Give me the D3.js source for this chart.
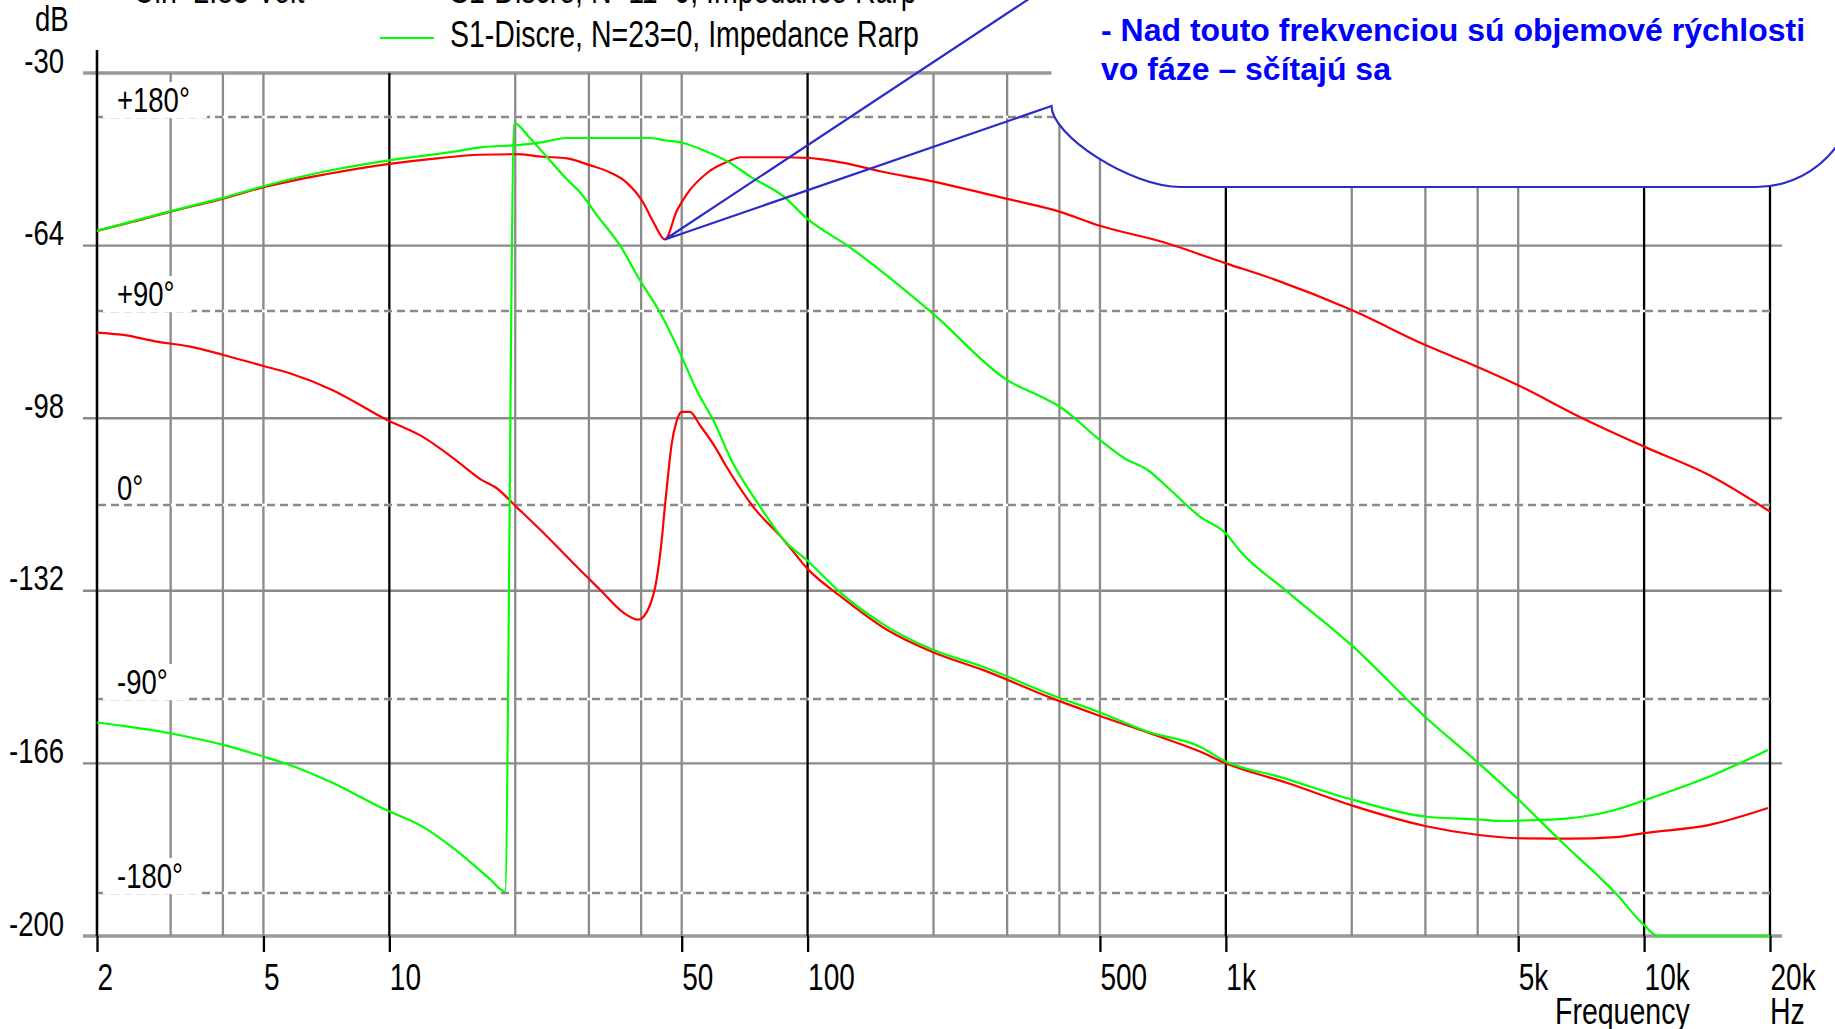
<!DOCTYPE html>
<html>
<head>
<meta charset="utf-8">
<script src="https://cdn.jsdelivr.net/npm/d3@7"></script>
<style>
  html, body { margin: 0; padding: 0; background: #fff; }
  svg { display: block; }
  text { font-family: "Liberation Sans", Arial, sans-serif; fill: #000; }
</style>
</head>
<body>
<script>
// ---- data ---------------------------------------------------------------
// frequency grid (Hz)
const gridFreqs = [2, 3, 4, 5, 10, 20, 30, 40, 50, 100, 200, 300, 400, 500,
                   1000, 2000, 3000, 4000, 5000, 10000, 20000];
const darkFreqs = [2, 10, 100, 1000, 10000, 20000];
const xTickFreqs = [2, 5, 10, 50, 100, 500, 1000, 5000, 10000, 20000];
const xTickLabels = ["2", "5", "10", "50", "100", "500", "1k", "5k", "10k", "20k"];

// level axis (dB) and phase axis (degrees)
const dbTicks = [-30, -64, -98, -132, -166, -200];
const dbLabels = ["-30", "-64", "-98", "-132", "-166", "-200"];
const phaseTicks = [180, 90, 0, -90, -180];
const phaseLabels = ["+180°", "+90°", "0°", "-90°", "-180°"];

// [frequency Hz, level dB]
const redMag = [
  [2, -61.1], [2.44, -59.3], [3, -57.3], [3.9, -55.0], [5, -52.5], [7, -50.0],
  [10, -47.9], [13, -46.8], [16.5, -46.1], [20, -46.0], [23.3, -46.5], [26.6, -46.8],
  [30, -48.1], [33.7, -49.6], [36.8, -51.5], [40.5, -55.6], [42.8, -59.4], [45.6, -62.8],
  [48.7, -57.1], [51.5, -53.8], [57.7, -49.6], [64.7, -47.4], [69.3, -46.6], [86, -46.6],
  [100, -46.7], [120, -47.6], [150, -49.4], [200, -51.4], [300, -54.8], [400, -57.3],
  [500, -60.1], [700, -63.2], [1000, -67.5], [1300, -70.6], [2000, -76.7], [3000, -83.6],
  [4000, -87.9], [5000, -91.5], [7000, -97.7], [10000, -103.6], [14300, -109.2], [20000, -116.4]
];
const greenMag = [
  [2, -61.1], [3, -57.2], [4, -54.6], [5, -52.3], [7, -49.4], [10, -47.2], [14, -45.6],
  [16.7, -44.6], [20.2, -44.2], [23.3, -43.6], [26.6, -42.8], [42, -42.8], [45.1, -43.2],
  [50.4, -43.8], [56.3, -45.2], [64.6, -47.5], [73.3, -50.5], [87.9, -54.4], [99.4, -58.6],
  [126, -64.3], [200, -77.5], [300, -90.5], [375, -94.4], [400, -95.7], [500, -102.3],
  [572, -105.9], [650, -108.2], [736, -112.1], [867, -117.4], [1000, -120.7], [1077, -124],
  [1404, -132.2], [2016, -143], [2993, -156.8], [4027, -166], [5017, -173.2], [6282, -181.1],
  [8553, -191.6], [9984, -197.8], [10800, -200], [20000, -200]
];

// [frequency Hz, phase degrees]
const redPhase = [
  [2, 80], [2.31, 78.9], [2.78, 75.8], [3.34, 73.5], [4.01, 69.6], [5, 64.5], [5.78, 61.1],
  [7.3, 53.4], [9.8, 39.8], [12, 31.7], [14.4, 20.9], [16.5, 12], [18, 8], [20.2, -1.2],
  [23.8, -14.5], [27.5, -26.9], [31.9, -39.3], [36.3, -50], [39.4, -53.2], [42, -46.4],
  [43.6, -34], [44.8, -16.2], [45.6, -0.3], [46.4, 14], [47.3, 28.1], [48.6, 38.8],
  [50, 43.2], [52.3, 43.2], [55.3, 37], [60, 27.1], [64.1, 17.5], [74.1, -0.8],
  [87.7, -16.2], [100.5, -30.1], [120.2, -42.5], [154.8, -57.9], [201.6, -68.7],
  [262.3, -76.5], [383.5, -89.6], [493, -97.4], [676.6, -106.7], [867, -114.4],
  [999, -119.8], [1404, -129], [2016, -139.6], [2993, -148.9], [4027, -153.1],
  [5017, -154.6], [6607, -154.8], [8553, -154.1], [9984, -152.2], [14334, -148.4], [19780, -140.6]
];
const greenPhase = [
  [2, -100.9], [2.31, -102.5], [2.98, -105.9], [4.01, -111.3], [5, -116.7], [5.78, -120.6],
  [7.2, -128.3], [9.8, -141.4], [12, -149.2], [14.4, -160], [17.3, -173.1], [18.9, -179.3],
  [19.9, 177.2], [21.7, 170.1], [23.3, 163.5], [26.6, 151], [28.6, 145], [31.3, 134.6],
  [35.6, 120.4], [39.7, 104.4], [44.3, 89.5], [49.5, 70.7], [54.3, 53.2], [60, 37.9],
  [65.1, 22.4], [77, -0.8], [87.7, -16.2], [100.5, -26.3], [120.2, -40.9], [154.8, -56.4],
  [199.5, -67.2], [262.3, -75], [383.5, -88.1], [493, -95.8], [648, -105.1], [867, -112.1],
  [999, -119], [1338, -126], [2016, -136.8], [2993, -144.5], [4027, -145.9], [4626, -146.6],
  [5017, -146.4], [6491, -145.5], [8553, -141.4], [9984, -137.1], [14334, -126], [19780, -113.6]
];

// callout target: the notch of the red level curve
const calloutTarget = [45.6, -62.8];
const calloutLines = ["- Nad touto frekvenciou sú objemové rýchlosti", "vo fáze – sčítajú sa"];
const legendRows = ["S1-Discre, N=11=0, Impedance Rarp", "S1-Discre, N=23=0, Impedance Rarp"];
const topNote = "Uin=2.83 Volt";

// ---- layout -------------------------------------------------------------
const W = 1835, H = 1029;
const plotL = 97, plotR = 1770, plotT = 73, plotB = 936;

const x = d3.scaleLog().domain([2, 20000]).range([plotL, plotR]);
const yDb = d3.scaleLinear().domain([-30, -200]).range([plotT, plotB]);
const yPh = d3.scaleLinear().domain([180, -180]).range([117, 893]);

const GRID = "#8a8a8a";
const SY = 1.3;          // tall, narrow screen font look
const FS = 27.5;

const svg = d3.select("body").append("svg").attr("width", W).attr("height", H);

function txt(g, tx, ty, s, opts = {}) {
  return g.append("text")
    .attr("transform", `translate(${tx},${ty}) scale(1,${opts.sy || SY})`)
    .attr("text-anchor", opts.anchor || "start")
    .style("font-size", (opts.size || FS) + "px")
    .style("font-weight", opts.weight || "normal")
    .style("fill", opts.fill || "#000")
    .text(s);
}

// ---- grid ---------------------------------------------------------------
const grid = svg.append("g");

// solid level lines
grid.selectAll("line.db").data(dbTicks).join("line")
  .attr("x1", plotL - 14).attr("x2", plotR + 12)
  .attr("y1", d => yDb(d)).attr("y2", d => yDb(d))
  .attr("stroke", d => (d === -30 || d === -200) ? "#9a9a9a" : GRID)
  .attr("stroke-width", d => (d === -30 || d === -200) ? 3.6 : 2.4);

// vertical frequency lines
grid.selectAll("line.f").data(gridFreqs).join("line")
  .attr("x1", d => x(d)).attr("x2", d => x(d))
  .attr("y1", d => d === 2 ? 50 : plotT).attr("y2", plotB)
  .attr("stroke", d => darkFreqs.includes(d) ? "#000" : GRID)
  .attr("stroke-width", 2.3);

// dashed phase lines (opaque gaps)
grid.selectAll("line.phw").data(phaseTicks).join("line")
  .attr("x1", plotL + 1).attr("x2", plotR)
  .attr("y1", d => yPh(d)).attr("y2", d => yPh(d))
  .attr("stroke", "#fff").attr("stroke-width", 2.4);
grid.selectAll("line.ph").data(phaseTicks).join("line")
  .attr("x1", plotL + 1).attr("x2", plotR)
  .attr("y1", d => yPh(d)).attr("y2", d => yPh(d))
  .attr("stroke", GRID).attr("stroke-width", 2.4)
  .attr("stroke-dasharray", "8,5");

// left axis line drawn last so it stays black
grid.append("line").attr("x1", plotL).attr("x2", plotL).attr("y1", 50).attr("y2", plotB)
  .attr("stroke", "#000").attr("stroke-width", 2.3);

// ---- phase labels with opaque boxes --------------------------------------
const phG = svg.append("g");
phaseTicks.forEach((p, i) => {
  const yb = yPh(p) - 5;
  const t = txt(phG, 117, yb, phaseLabels[i]);
  const w = t.node().getComputedTextLength();
  phG.insert("rect", "text")
    .attr("x", plotL + 6).attr("y", yb - 30)
    .attr("width", 117 - (plotL + 6) + w + 17).attr("height", p === 0 ? 33 : 36)
    .attr("fill", "#fff");
});

// ---- axes ---------------------------------------------------------------
const xAxisG = svg.append("g").attr("transform", `translate(0,${plotB})`)
  .call(d3.axisBottom(x).tickValues(xTickFreqs)
    .tickFormat((d, i) => xTickLabels[i]).tickSize(16).tickPadding(0));
xAxisG.attr("font-size", null).attr("font-family", null);
xAxisG.select(".domain").remove();
xAxisG.selectAll(".tick line").attr("stroke", "#000").attr("stroke-width", 2.3);
xAxisG.selectAll(".tick text")
  .attr("y", null).attr("dy", null).attr("x", null)
  .attr("text-anchor", "start")
  .attr("transform", `translate(0,54) scale(1,${SY + 0.05})`)
  .style("font-size", "28px").style("fill", "#000");

const yAxisG = svg.append("g").attr("transform", `translate(${plotL},0)`)
  .call(d3.axisLeft(yDb).tickValues(dbTicks)
    .tickFormat((d, i) => dbLabels[i]).tickSize(0).tickPadding(0));
yAxisG.attr("font-size", null).attr("font-family", null);
yAxisG.select(".domain").remove();
yAxisG.selectAll(".tick line").remove();
yAxisG.selectAll(".tick text")
  .attr("x", null).attr("dy", null)
  .attr("text-anchor", "end")
  .attr("transform", `translate(-33,-1) scale(1,${SY})`)
  .style("font-size", FS + "px").style("fill", "#000");

txt(svg, 35, 31, "dB");
txt(svg, 1555, 1024, "Frequency", { size: 28.5 });
txt(svg, 1770, 1024, "Hz", { size: 28.5 });

// ---- curves -------------------------------------------------------------
const magLine = d3.line().x(d => x(d[0])).y(d => yDb(d[1])).curve(d3.curveMonotoneX);
const phLine = d3.line().x(d => x(d[0])).y(d => yPh(d[1])).curve(d3.curveMonotoneX);
const curves = svg.append("g").attr("fill", "none").attr("stroke-width", 2.2)
  .attr("stroke-linejoin", "round");
curves.append("path").attr("d", phLine(redPhase)).attr("stroke", "#ff0000");
curves.append("path").attr("d", magLine(redMag)).attr("stroke", "#ff0000");
curves.append("path").attr("d", phLine(greenPhase)).attr("stroke", "#00ff00");
curves.append("path").attr("d", magLine(greenMag)).attr("stroke", "#00ff00");

// ---- callout ------------------------------------------------------------
const tipX = x(calloutTarget[0]), tipY = yDb(calloutTarget[1]);
const bx = 1051.5, attachTop = -16, attachBot = 106, bBottom = 187;
const bubbleBody =
  `M${bx},-60 L${bx},${attachBot} C${bx},135 1130,${bBottom} 1181,${bBottom} ` +
  `L1756,${bBottom} A100,100 0 0 0 1856,${bBottom - 100} L1856,-60 Z`;
const bubbleEdge =
  `M${bx},-60 L${bx},${attachTop} L${tipX},${tipY} L${bx},${attachBot} ` +
  `C${bx},135 1130,${bBottom} 1181,${bBottom} L1756,${bBottom} ` +
  `A100,100 0 0 0 1856,${bBottom - 100} L1856,-60`;
svg.append("path").attr("d", bubbleBody).attr("fill", "#fff");
svg.append("path").attr("d", bubbleEdge).attr("fill", "none")
  .attr("stroke", "#2b2bcc").attr("stroke-width", 2.2);
calloutLines.forEach((s, i) => {
  txt(svg, 1101, 41 + i * 38.5, s, { size: 32, weight: "bold", fill: "#0000ff", sy: 1 });
});

// ---- legend -------------------------------------------------------------
txt(svg, 134, 3, topNote, { size: 28.5 });
legendRows.forEach((s, i) => {
  const by = 3 + i * 44;
  txt(svg, 450, by, s, { size: 28.5 });
  svg.append("line").attr("x1", 380).attr("x2", 434)
    .attr("y1", by - 9).attr("y2", by - 9)
    .attr("stroke", i === 0 ? "#ff0000" : "#00ff00").attr("stroke-width", 2.2);
});
</script>
</body>
</html>
